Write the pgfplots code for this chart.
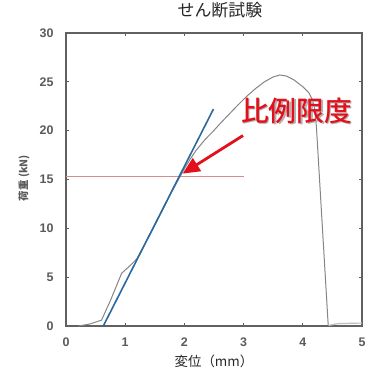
\documentclass[border=0pt]{standalone}
\usepackage{pgfplots}
\pgfplotsset{compat=1.18}
\usepackage{fontspec}
\setmainfont{Liberation Sans}
\newfontfamily\cjk{Noto Sans CJK JP}
\newfontfamily\cjkb{Noto Sans CJK JP Medium}
\usetikzlibrary{arrows.meta}
\definecolor{tickgray}{HTML}{5A5A5A}
\definecolor{curvegray}{HTML}{858585}
\definecolor{fitblue}{HTML}{2A68A0}
\definecolor{limred}{HTML}{E3101C}
\definecolor{hline}{HTML}{D98A8A}
\begin{document}
\begin{tikzpicture}
\begin{axis}[
  at={(0,0)}, anchor=south west,
  scale only axis, width=296bp, height=293bp,
  xmin=0, xmax=5, ymin=0, ymax=30,
  xtick={0,1,2,3,4,5}, ytick={0,5,10,15,20,25,30},
  /pgf/number format/assume math mode=true,
  tick align=inside, major tick length=3bp,
  tick style={draw=tickgray, line width=0.8bp},
  axis line style={draw=black!62, line width=1.3bp},
  ticklabel style={font=\fontsize{12.5}{13}\selectfont\bfseries, text=tickgray},
  yticklabel style={xshift=-9bp},
  xticklabel style={yshift=-8bp},
  title={\cjk\fontsize{17}{18}\selectfont せん断試験},
  title style={at={(axis description cs:0.52,1.058)}, anchor=center, text=black!85},
  xlabel={\cjk\fontsize{13.5}{14}\selectfont 変位（mm）},
  xlabel style={at={(axis description cs:0.5,-0.122)}, anchor=center, text=black!85},
  ylabel={\cjk\fontsize{10.5}{11}\selectfont\bfseries 荷重 (kN)},
  ylabel style={at={(axis description cs:-0.142,0.505)}, anchor=center, text=tickgray},
  clip=false,
]
% reference horizontal line
\addplot[draw=hline, line width=1bp] coordinates {(0,15.3) (3,15.3)};
% light gray tail
\addplot[draw=black!25, line width=1.2bp] coordinates {(4.43,0.05) (4.6,0.25) (5,0.3)};
% measured curve
\addplot[draw=curvegray, line width=1bp] coordinates {
(0.21,0) (0.4,0.2) (0.6,0.6) (0.75,2.6) (0.94,5.4) (1.05,6.0) (1.12,6.4) (1.2,6.9)
(1.5,10.3) (1.8,13.9) (2.0,16.1) (2.1,17.1) (2.2,18.0) (2.35,19.1) (2.48,19.9)
(2.6,20.7) (2.71,21.4) (2.9,22.6) (3.05,23.5) (3.2,24.3) (3.35,25.0) (3.5,25.5)
(3.61,25.7) (3.72,25.6) (3.85,25.2) (4.0,24.5) (4.1,23.9) (4.16,23.2) (4.2,22.3)
(4.23,20.4) (4.43,0)};
% fitted line
\addplot[draw=fitblue, line width=1.6bp] coordinates {(0.63,0) (2.49,22.2)};
% annotation
\draw[limred, line width=2.8bp, -{Triangle[length=17bp,width=15bp]}] (axis cs:2.99,19.5) -- (axis cs:1.97,15.6);
\node[text=black!30] at (axis cs:3.9,22.0) [xshift=1.2bp,yshift=-1.2bp] {\cjkb\fontsize{28}{28}\selectfont 比例限度};
\node[text=limred] at (axis cs:3.9,22.0) {\cjkb\fontsize{28}{28}\selectfont 比例限度};
\end{axis}
\pgfresetboundingbox
\path (-66bp,-46bp) rectangle (308bp,326bp);
\end{tikzpicture}
\end{document}
